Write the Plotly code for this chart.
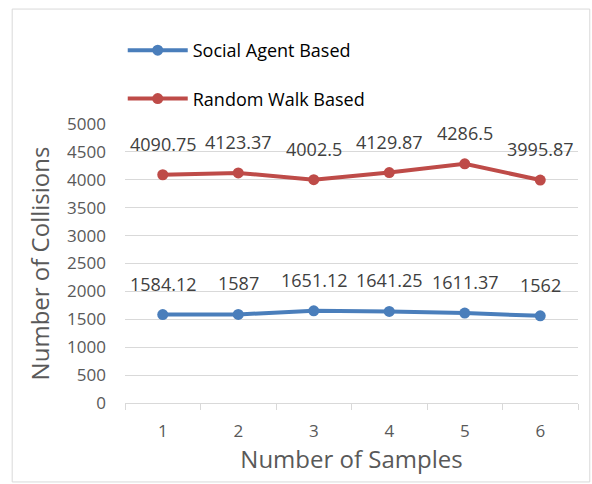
import plotly.graph_objects as go

samples = ["1", "2", "3", "4", "5", "6"]
social_agent = [1584.12, 1587, 1651.12, 1641.25, 1611.37, 1562]
random_walk = [4090.75, 4123.37, 4002.5, 4129.87, 4286.5, 3995.87]
social_labels = ["1584.12", "1587", "1651.12", "1641.25", "1611.37", "1562"]
random_labels = ["4090.75", "4123.37", "4002.5", "4129.87", "4286.5", "3995.87"]

FONT = "Open Sans, sans-serif"
BLUE = "#4A7EBB"
RED = "#BE4B48"

fig = go.Figure()
fig.add_trace(go.Scatter(x=samples, y=social_agent, mode="lines+markers",
                         name="Social Agent Based", legendgroup="a",
                         line=dict(color=BLUE, width=4), marker=dict(size=11, color=BLUE)))
fig.add_trace(go.Scatter(x=samples, y=random_walk, mode="lines+markers",
                         name="Random Walk Based", legendgroup="b",
                         line=dict(color=RED, width=4), marker=dict(size=11, color=RED)))

for ys, labs in [(social_agent, social_labels), (random_walk, random_labels)]:
    for i, (y, t) in enumerate(zip(ys, labs)):
        fig.add_annotation(x=i, y=y, text=t, showarrow=False, yshift=31,
                           font=dict(family=FONT, size=18, color="#404040"))

fig.add_shape(type="rect", xref="paper", yref="paper",
              x0=-0.249, x1=1.026, y0=-0.283, y1=1.412,
              line=dict(color="#D9D9D9", width=1), fillcolor="rgba(0,0,0,0)", layer="below")

fig.update_layout(
    width=592, height=484,
    margin=dict(l=125, r=14, t=124, b=81),
    paper_bgcolor="white", plot_bgcolor="white",
    font=dict(family=FONT, color="#595959"),
    showlegend=True,
    legend=dict(x=-0.005, y=1.33, xanchor="left", yanchor="top",
                bgcolor="white", font=dict(family=FONT, size=18, color="#000000"),
                tracegroupgap=22, itemwidth=60),
    xaxis=dict(type="category", range=[-0.5, 5.5], showgrid=False,
               showline=True, linecolor="#D9D9D9", linewidth=1,
               ticks="outside", tickson="boundaries", ticklen=6, tickcolor="#D9D9D9",
               tickfont=dict(size=17, color="#595959"), ticklabelstandoff=13,
               title=dict(text="Number of Samples", font=dict(size=24, color="#595959"), standoff=6)),
    yaxis=dict(range=[0, 5000], dtick=500, showgrid=True, gridcolor="#D9D9D9",
               zeroline=False, showline=False,
               tickfont=dict(size=17, color="#595959"), ticklabelstandoff=18,
               title=dict(text="Number of Collisions", font=dict(size=24, color="#595959"), standoff=10)),
)

fig.write_html("out.html", config={"displayModeBar": False})
with open("out.html", encoding="utf-8") as f:
    html = f.read()
html = html.replace("<head>", "<head><style>html,body{margin:0;padding:0;}</style>", 1)
with open("out.html", "w", encoding="utf-8") as f:
    f.write(html)
